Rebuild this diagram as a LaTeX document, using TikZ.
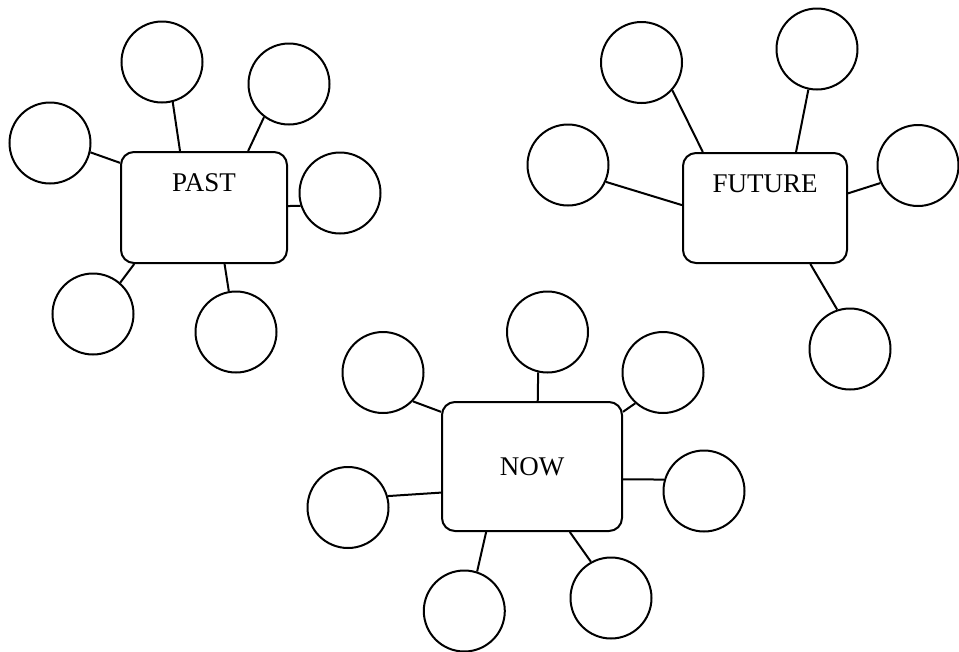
\documentclass[tikz,border=0pt]{standalone}
\usepackage{fontspec}
\setmainfont{Liberation Serif}
\usepackage{tikz}

\tikzset{
	topic/.style={draw, rectangle, rounded corners=13pt, line width=2pt, inner sep=0pt, font=\fontsize{27}{31}\selectfont},
	toptext/.style={text height=39.5pt, text depth=#1},
	bubble/.style={draw, circle, line width=2pt, minimum size=81pt, inner sep=0pt},
	link/.style={line width=2pt}
}

\begin{document}
\begin{tikzpicture}[x=1pt, y=-1pt]
	\useasboundingbox (0,0) rectangle (959,651);
	% the three topics
	\node[topic, toptext=71.5pt, minimum width=166pt, minimum height=111pt] (past) at (204,207.5) {PAST};
	\node[topic, toptext=70.5pt, minimum width=164pt, minimum height=110pt] (future) at (765,208) {FUTURE};
	\node[topic, minimum width=180pt, minimum height=129pt] (now) at (532,466.5) {NOW};
	% bubbles round PAST
	\node[bubble] (p1) at (162,62) {};
	\node[bubble] (p2) at (289,84) {};
	\node[bubble] (p3) at (50,143) {};
	\node[bubble] (p4) at (340,193) {};
	\node[bubble] (p5) at (93,314) {};
	\node[bubble] (p6) at (236,332) {};
	% bubbles round FUTURE
	\node[bubble] (f1) at (641.5,62.5) {};
	\node[bubble] (f2) at (817,49) {};
	\node[bubble] (f3) at (568,165) {};
	\node[bubble] (f4) at (918,165.5) {};
	\node[bubble] (f5) at (850,349) {};
	% bubbles round NOW
	\node[bubble] (n1) at (547.5,332) {};
	\node[bubble] (n2) at (383,372.5) {};
	\node[bubble] (n3) at (663,372.5) {};
	\node[bubble] (n4) at (348,507.5) {};
	\node[bubble] (n5) at (704,491) {};
	\node[bubble] (n6) at (464.3,611) {};
	\node[bubble] (n7) at (611,598) {};
	% links
	\draw[link] (p1.-75) -- (past.113);
	\draw[link] (p2.233) -- (past.52);
	\draw[link] (p3.-13) -- (past.152);
	\draw[link] (p4.198) -- (past.1);
	\draw[link] (p5.49) -- (past.219);
	\draw[link] (p6.100) -- (past.-70);
	\draw[link] (f1.-42) -- (future.138);
	\draw[link] (f2.-102) -- (future.61);
	\draw[link] (f3.-24) -- (future.178);
	\draw[link] (f4.205) -- (future.10);
	\draw[link] (f5.108) -- (future.-51);
	\draw[link] (n1.-103) -- (now.85);
	\draw[link] (n2.-44) -- (now.149);
	\draw[link] (n3.228) -- (now.31);
	\draw[link] (n4.16) -- (now.196);
	\draw[link] (n5.164) -- (now.-8);
	\draw[link] (n6.72) -- (now.235);
	\draw[link] (n7.119) -- (now.-60);
\end{tikzpicture}
\end{document}
